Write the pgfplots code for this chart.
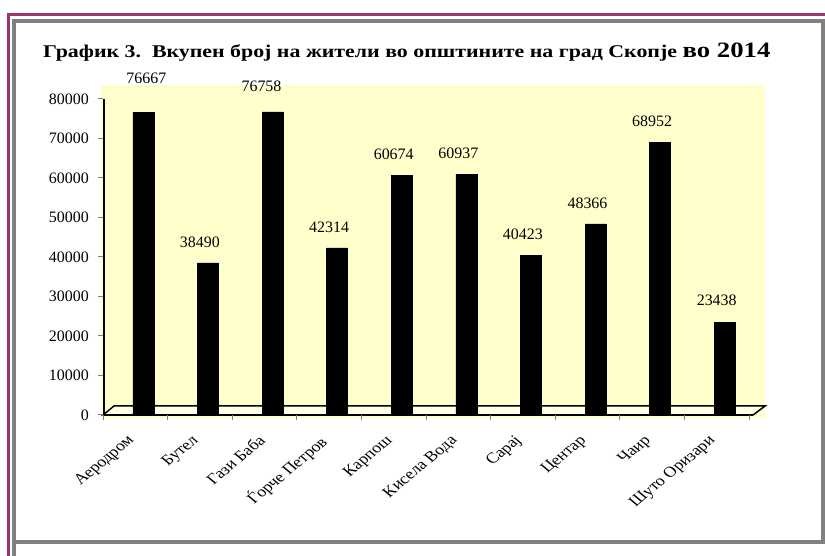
\documentclass[border=0pt]{standalone}
\usepackage{pgfplots}
\usepackage{pgfplotstable}
\pgfplotsset{compat=1.18}
\usepackage{fontspec}
\setmainfont{Liberation Serif}
\definecolor{frameP}{RGB}{160,50,110}
\definecolor{frameG}{RGB}{128,128,128}
\definecolor{wallY}{RGB}{255,255,204}
% rotated, slightly widened category names
\newcommand\rl[1]{\scalebox{1.2}[1]{\rotatebox{45}{#1}}}

% x = category, dy/dx = label offset in bp
\pgfplotstableread{
x  pop    dy  dx
0  76667  34  11
1  38490  21  0
2  76758  26  -3
3  42314  21  0
4  60674  21  0
5  60937  21  0
6  40423  21  0
7  48366  21  0
8  68952  21  0
9  23438  22  0
}\pop

\begin{document}
\begin{tikzpicture}[x=1bp,y=1bp]
\useasboundingbox (0,0) rectangle (825,556);
\fill[white] (0,0) rectangle (825,556);
% outer frames
\draw[frameP, line width=3bp] (8.5,0) -- (8.5,541.5) -- (825,541.5);
\draw[frameG, line width=4bp] (14,0) -- (14,535) -- (823,535) -- (823,14) -- (14,14);
% title
\node[anchor=base west, inner sep=0] at (43,498)
  {\scalebox{1.22}[1]{\bfseries\fontsize{18}{20}\selectfont График 3.\ \ Вкупен број на жители во општините на град Скопје
   \fontsize{22}{24}\selectfont во 2014}};
% back wall and floor
\fill[wallY] (101,138) rectangle (765,471);
\draw[line width=1.5bp, fill=wallY!50!white] (103,141) -- (114,150) -- (765,150) -- (753,141) -- cycle;
\draw[line width=2.5bp] (103,141) -- (753,141);

\begin{axis}[
    at={(103bp,141bp)}, anchor=south west,
    width=646bp, height=316bp, scale only axis,
    xmin=-0.5, xmax=9.5, ymin=0, ymax=80000,
    axis line style={draw=none},
    clip=false,
    scaled y ticks=false,
    ytick={0,10000,...,80000},
    xtick={0,...,9},
    xticklabels={\rl{Аеродром}, \rl{Бутел}, \rl{Гази Баба}, \rl{Ѓорче Петров}, \rl{Карпош},
                 \rl{Кисела Вода}, \rl{Сарај}, \rl{Центар}, \rl{Чаир}, \rl{Шуто Оризари}},
    minor xtick={-0.5,0.5,...,9.5},
    major x tick style={draw=none},
    xtick pos=bottom, ytick pos=left,
    tick align=outside,
    minor tick length=5bp, major tick length=5bp,
    every tick/.style={frameG, line width=1bp},
    /pgf/number format/1000 sep={},
    /pgf/number format/assume math mode=true,
    tick label style={font=\fontsize{15}{17}\selectfont},
    yticklabel style={font=\fontsize{16}{18}\selectfont, anchor=east, inner sep=0pt, xshift=-9bp},
    xticklabel style={anchor=north east, inner sep=0pt, xshift=2bp, yshift=-14bp},
    nodes near coords,
    visualization depends on={\thisrow{dy} \as \labdy},
    visualization depends on={\thisrow{dx} \as \labdx},
    every node near coord/.append style={font=\fontsize{16}{18}\selectfont, anchor=center,
        yshift=\labdy bp, xshift=\labdx bp},
]
\addplot[ybar, fill=black, draw=black, bar width=21bp, bar shift=8bp] table[x=x, y=pop] {\pop};
\end{axis}
\draw[line width=2bp] (103.5,141) -- (103.5,457);
\end{tikzpicture}
\end{document}
